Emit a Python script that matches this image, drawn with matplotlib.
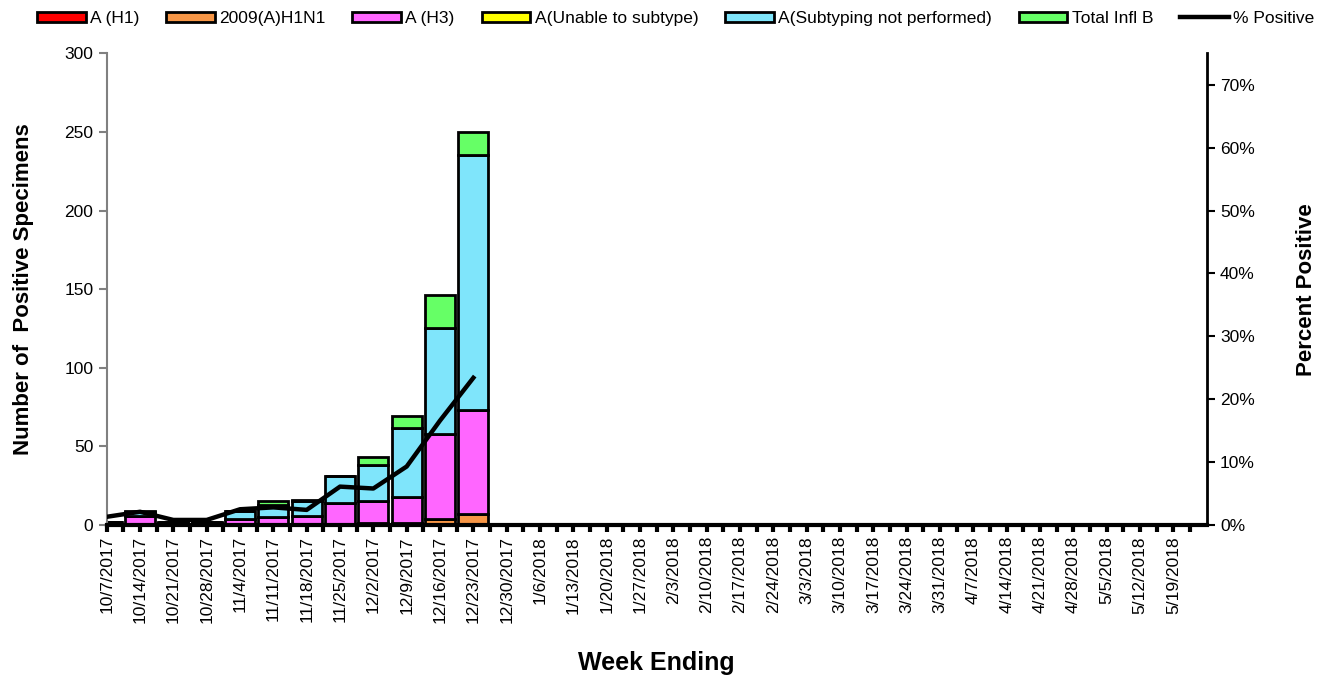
import numpy as np
import matplotlib.pyplot as plt
from matplotlib.patches import Patch
from matplotlib.lines import Line2D
from matplotlib.ticker import PercentFormatter

plt.rcParams['font.family'] = ['Liberation Sans', 'DejaVu Sans']

weeks = ['10/7/2017', '10/14/2017', '10/21/2017', '10/28/2017', '11/4/2017',
         '11/11/2017', '11/18/2017', '11/25/2017', '12/2/2017', '12/9/2017',
         '12/16/2017', '12/23/2017', '12/30/2017', '1/6/2018', '1/13/2018',
         '1/20/2018', '1/27/2018', '2/3/2018', '2/10/2018', '2/17/2018',
         '2/24/2018', '3/3/2018', '3/10/2018', '3/17/2018', '3/24/2018',
         '3/31/2018', '4/7/2018', '4/14/2018', '4/21/2018', '4/28/2018',
         '5/5/2018', '5/12/2018', '5/19/2018']

n_rest = len(weeks) - 12
a_h1 = [0] * 12 + [0] * n_rest
h1n1_2009 = [0, 0, 0, 0, 0, 0, 0, 0, 1, 1, 4, 7] + [0] * n_rest
a_h3 = [2, 6, 1, 1, 4, 5, 6, 14, 14, 17, 54, 66] + [0] * n_rest
a_unable = [0] * 12 + [0] * n_rest
a_not_performed = [0, 2, 1, 1, 5, 8, 9, 17, 23, 44, 67, 162] + [0] * n_rest
infl_b = [0, 1, 0, 0, 0, 2, 1, 0, 5, 7, 21, 15] + [0] * n_rest
pct_positive = [1.3, 2.1, 0.8, 0.8, 2.5, 2.8, 2.4, 6.1, 5.8, 9.3, 16.6, 23.4] + [np.nan] * n_rest

series = [
    ('A (H1)', a_h1, '#ff0000'),
    ('2009(A)H1N1', h1n1_2009, '#f79646'),
    ('A (H3)', a_h3, '#ff66ff'),
    ('A(Unable to subtype)', a_unable, '#ffff00'),
    ('A(Subtyping not performed)', a_not_performed, '#7fe5fb'),
    ('Total Infl B', infl_b, '#66ff66'),
]

fig = plt.figure(figsize=(13.3, 6.85), dpi=100)
ax = fig.add_axes([0.0802, 0.2336, 0.8271, 0.6886])
x = np.arange(len(weeks))

bottom = np.zeros(len(weeks))
handles = []
for label, vals, color in series:
    vals = np.array(vals, dtype=float)
    ax.bar(x, vals, 0.9, bottom=bottom, color=color, edgecolor='black',
           linewidth=2, zorder=2)
    bottom += vals
    handles.append(Patch(facecolor=color, edgecolor='black', linewidth=2, label=label))

ax.set_xlim(0, 33)
ax.set_ylim(0, 300)
ax.set_yticks(range(0, 301, 50))
ax.set_xticks(x)
ax.set_xticklabels(weeks, rotation=90, fontsize=12.5)
ax.set_xticks(np.arange(0.5, 33.5, 1), minor=True)
ax.tick_params(axis='x', which='both', length=5, width=3, color='black', pad=3)
ax.tick_params(axis='y', labelsize=12.5, length=6, width=1.5, color='#808080')
ax.spines['top'].set_visible(False)
ax.spines['right'].set_visible(False)
ax.spines['left'].set_color('#808080')
ax.spines['left'].set_linewidth(1.5)
ax.spines['bottom'].set_linewidth(3)
ax.spines['bottom'].set_zorder(5)
ax.set_ylabel('Number of  Positive Specimens', fontsize=16, fontweight='bold', labelpad=22)
ax.set_xlabel('Week Ending', fontsize=18, fontweight='bold', labelpad=20)

ax2 = ax.twinx()
ax2.plot(x, pct_positive, color='black', linewidth=3.2, zorder=4)
ax2.set_ylim(0, 75)
ax2.set_yticks(range(0, 71, 10))
ax2.yaxis.set_major_formatter(PercentFormatter(decimals=0))
ax2.tick_params(axis='y', labelsize=12.5, length=6, width=1.5, color='black')
ax2.spines['right'].set_linewidth(2)
for s in ['top', 'left', 'bottom']:
    ax2.spines[s].set_visible(False)
ax2.set_ylabel('Percent Positive', fontsize=16, fontweight='bold', labelpad=30)

handles.append(Line2D([], [], color='black', linewidth=3.2, label='% Positive'))
fig.legend(handles=handles, loc='center', bbox_to_anchor=(0.508, 0.973), ncol=7,
           frameon=False, fontsize=12.5, handlelength=2.8, handleheight=0.5,
           handletextpad=0.25, columnspacing=1.55, borderaxespad=0)

fig.savefig('out.png', dpi=100)
